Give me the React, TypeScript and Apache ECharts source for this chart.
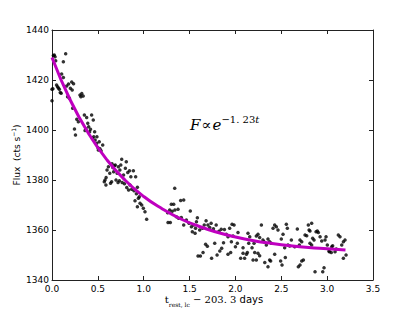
import React, { useEffect, useRef } from "react";
import * as echarts from "echarts";

// Observed flux points [t (days), flux (cts/s)]
const earlyPoints: number[][] = [
  [0.0, 1411.7], [0.0, 1416.3], [0.01, 1416.5], [0.015, 1429.8], [0.025, 1430], [0.033, 1429.3],
  [0.04, 1427.7], [0.05, 1418], [0.06, 1417.3], [0.07, 1416.8], [0.08, 1416.3], [0.09, 1415],
  [0.1, 1414.7], [0.105, 1422.4], [0.124, 1421], [0.124, 1427.3], [0.149, 1430.5], [0.16, 1417.6],
  [0.17, 1413.3], [0.18, 1418.4], [0.19, 1412.7], [0.2, 1416.7], [0.215, 1419.2], [0.22, 1416],
  [0.225, 1408.7], [0.235, 1418.5], [0.245, 1400.4], [0.256, 1398], [0.27, 1404.3], [0.287, 1403.3],
  [0.305, 1414], [0.315, 1413.3], [0.325, 1414.6], [0.34, 1413.6], [0.353, 1406], [0.36, 1399.8],
  [0.37, 1400.5], [0.378, 1405], [0.39, 1402.7], [0.4, 1401.3], [0.41, 1399.3], [0.42, 1400.3],
  [0.432, 1406], [0.44, 1396.7], [0.45, 1404], [0.455, 1397.3], [0.465, 1399.3], [0.47, 1396],
  [0.487, 1394.7], [0.49, 1397.3], [0.5, 1393], [0.505, 1392], [0.515, 1395.3], [0.523, 1392.5],
  [0.535, 1391.7], [0.553, 1394],
];

const midPoints: number[][] = [
  [0.57, 1379.3], [0.578, 1380], [0.588, 1378], [0.59, 1381], [0.6, 1384], [0.615, 1385.3],
  [0.63, 1382.7], [0.638, 1378.7], [0.65, 1379.3], [0.655, 1386.5], [0.663, 1385], [0.672, 1383.3],
  [0.68, 1385.7], [0.69, 1386], [0.698, 1380], [0.71, 1382.7], [0.72, 1379], [0.723, 1385.3],
  [0.735, 1379.7], [0.74, 1384], [0.75, 1386], [0.76, 1388.3], [0.765, 1379], [0.78, 1382],
  [0.79, 1378.5], [0.8, 1384.7], [0.81, 1387.3], [0.815, 1377], [0.826, 1383], [0.835, 1376],
  [0.845, 1383.7], [0.851, 1378], [0.86, 1381.3], [0.869, 1376.3], [0.887, 1383.7], [0.894, 1375.7],
  [0.905, 1371.7], [0.912, 1381.3], [0.92, 1374.5], [0.931, 1377.1], [0.931, 1369.3], [0.942, 1372.7],
  [0.952, 1373.3], [0.96, 1370.7], [0.978, 1370], [0.996, 1368.7], [1.014, 1367.3], [1.032, 1364.3],
];

const latePoints: number[][] = [
  [1.261, 1366.9], [1.265, 1363], [1.283, 1368], [1.29, 1363], [1.301, 1370.3], [1.31, 1367.5],
  [1.327, 1370.3], [1.338, 1376.7], [1.34, 1368], [1.356, 1365.3], [1.374, 1368.3], [1.38, 1364.7],
  [1.403, 1371.8], [1.41, 1365], [1.436, 1372], [1.436, 1362], [1.465, 1364], [1.494, 1362.7],
  [1.508, 1367.6], [1.52, 1361.3], [1.53, 1359.3], [1.545, 1362], [1.56, 1358.7], [1.565, 1360.7],
  [1.575, 1363.3], [1.585, 1364.9], [1.592, 1349.6], [1.618, 1349.6], [1.61, 1360], [1.64, 1360.7],
  [1.647, 1351], [1.66, 1362], [1.675, 1354.3], [1.68, 1363.7], [1.694, 1353.5], [1.7, 1362],
  [1.72, 1361], [1.735, 1362.7], [1.74, 1348.7], [1.76, 1360.5], [1.774, 1354.7], [1.79, 1362],
  [1.8, 1350], [1.82, 1359.5], [1.83, 1351.6], [1.845, 1360.3], [1.85, 1352.7], [1.87, 1354.9],
  [1.88, 1360.2], [1.9, 1358.3],
  [1.919, 1357.3], [1.919, 1350.3], [1.937, 1360.7], [1.948, 1351], [1.956, 1355.3], [1.963, 1362.3],
  [1.974, 1357.6], [1.985, 1362], [2.0, 1353.3], [2.021, 1354.7], [2.028, 1359], [2.057, 1348.7],
  [2.083, 1352.9], [2.083, 1350.7], [2.1, 1348.7], [2.12, 1350.3], [2.13, 1351], [2.137, 1358.7],
  [2.145, 1354.7], [2.156, 1357.3], [2.181, 1352.9], [2.192, 1348], [2.203, 1354.7], [2.21, 1351],
  [2.228, 1357.6], [2.228, 1348], [2.246, 1358.3], [2.246, 1350.7], [2.264, 1357], [2.264, 1349.7],
  [2.283, 1362], [2.3, 1356], [2.312, 1355.3], [2.32, 1347], [2.337, 1354], [2.355, 1356.4],
  [2.355, 1345.3], [2.373, 1355.3], [2.373, 1348], [2.384, 1347.6], [2.39, 1354.7], [2.41, 1360.7],
  [2.428, 1362], [2.428, 1350.3], [2.446, 1361.3], [2.464, 1360], [2.493, 1347.6], [2.5, 1356.4],
  [2.508, 1346], [2.519, 1358.3], [2.537, 1352.9], [2.544, 1349], [2.555, 1362.3], [2.566, 1360.7],
  [2.573, 1354], [2.591, 1353.6], [2.61, 1356], [2.646, 1353.3],
  [2.675, 1360.4], [2.686, 1345.3], [2.697, 1354], [2.704, 1356], [2.704, 1346], [2.723, 1355.3],
  [2.723, 1347.6], [2.741, 1348], [2.759, 1358], [2.777, 1357.7], [2.795, 1362], [2.803, 1360],
  [2.813, 1359.6], [2.813, 1354.7], [2.831, 1362.7], [2.831, 1354], [2.842, 1356.7], [2.857, 1356],
  [2.868, 1343.3], [2.879, 1359.3], [2.893, 1359.6], [2.904, 1359], [2.923, 1357.3], [2.941, 1355.6],
  [2.952, 1343.3], [2.966, 1344.9], [2.977, 1356], [2.988, 1357.3], [3.002, 1354], [3.02, 1351.6],
  [3.024, 1351.3], [3.045, 1351], [3.05, 1353.3], [3.06, 1353.7], [3.086, 1351.3], [3.1, 1352.4],
  [3.122, 1358], [3.14, 1357.3], [3.159, 1354], [3.177, 1355.3], [3.177, 1348.7], [3.195, 1356],
  [3.206, 1350],
];

// Fitted exponential decay curve
const fitT = [0, 0.2, 0.4, 0.6, 0.8, 1.0, 1.2, 1.4, 1.6, 1.8, 2.0, 2.2, 2.4, 2.6, 2.8, 3.0, 3.2];
const fitF = [1429.0, 1411.9, 1398.5, 1388.0, 1379.8, 1373.4, 1368.5, 1364.5, 1361.5, 1359.1, 1357.2,
  1355.7, 1354.6, 1353.7, 1353.0, 1352.5, 1352.0];

const xTicks = { min: 0, max: 3.5, interval: 0.5 };
const yTicks = { min: 1340, max: 1440, interval: 20 };

export default function App() {
  const ref = useRef<HTMLDivElement>(null);
  useEffect(() => {
    const chart = echarts.init(ref.current!, null, { renderer: "svg" });
    const axisLine = { show: true, onZero: false, lineStyle: { color: "#222", width: 1 } };
    const axisTick = { show: true, inside: true, length: 4, lineStyle: { color: "#222", width: 1 } };
    const label = { fontSize: 9, color: "#000", fontFamily: "DejaVu Sans" };
    const serif = "DejaVu Serif";
    chart.setOption({
      animation: false,
      backgroundColor: "#fff",
      grid: { left: 52, right: 42, top: 30, bottom: 32, containLabel: false },
      xAxis: [
        {
          type: "value", ...xTicks, position: "bottom", axisLine, axisTick,
          axisLabel: { ...label, margin: 4, formatter: (v: number) => v.toFixed(1) },
          splitLine: { show: false },
        },
        {
          type: "value", ...xTicks, position: "top", axisLine, axisTick,
          axisLabel: { show: false }, splitLine: { show: false },
        },
      ],
      yAxis: [
        {
          type: "value", ...yTicks, position: "left", axisLine, axisTick,
          axisLabel: { ...label, margin: 3, formatter: (v: number) => String(v) }, splitLine: { show: false },
        },
        {
          type: "value", ...yTicks, position: "right", axisLine, axisTick,
          axisLabel: { show: false }, splitLine: { show: false },
        },
      ],
      series: [
        {
          type: "scatter",
          data: earlyPoints.concat(midPoints, latePoints),
          symbolSize: 3.5,
          itemStyle: { color: "#000" },
          z: 2,
        },
        {
          type: "line",
          data: fitT.map((t, i) => [t, fitF[i]]),
          smooth: true,
          showSymbol: false,
          symbol: "none",
          lineStyle: { color: "#bf00bf", width: 3 },
          z: 3,
        },
      ],
      graphic: [
        {
          type: "text",
          x: 17,
          y: 155,
          rotation: Math.PI / 2,
          style: {
            text: "{a|Flux\u00a0\u00a0(cts s}{s|−1}{a|)}",
            align: "center",
            verticalAlign: "middle",
            textAlign: "center",
            textVerticalAlign: "middle",
            rich: {
              a: { fontSize: 9, fontFamily: "DejaVu Sans", fill: "#000", color: "#000", lineHeight: 14, verticalAlign: "middle" },
              s: { fontSize: 6, fontFamily: "DejaVu Sans", fill: "#000", color: "#000", verticalAlign: "top", lineHeight: 8 },
            },
          },
        },
        {
          type: "text",
          x: 214,
          y: 299,
          style: {
            text: "{t|t}{b|rest, lc}{m| − 203. 3 }{d|days}",
            align: "center",
            verticalAlign: "middle",
            textAlign: "center",
            textVerticalAlign: "middle",
            rich: {
              t: { fontSize: 10, fontFamily: serif, color: "#000", lineHeight: 16, verticalAlign: "middle" },
              b: { fontSize: 6, fontFamily: serif, color: "#000", verticalAlign: "bottom", lineHeight: 8 },
              m: { fontSize: 10, fontFamily: serif, color: "#000", lineHeight: 16, verticalAlign: "middle" },
              d: { fontSize: 10, fontFamily: "DejaVu Sans", color: "#000", lineHeight: 16, verticalAlign: "middle" },
            },
          },
        },
        {
          type: "text",
          x: 190,
          y: 125,
          style: {
            text: "{f|F}{p|∝}{e|e}{s|−1. 23}{st|t}",
            align: "left",
            verticalAlign: "middle",
            textAlign: "left",
            textVerticalAlign: "middle",
            rich: {
              f: { fontSize: 15, fontFamily: serif, fontStyle: "italic", color: "#000", lineHeight: 22, verticalAlign: "middle" },
              p: { fontSize: 15, fontFamily: serif, color: "#000", lineHeight: 22, verticalAlign: "middle", padding: [0, 1, 0, 1] },
              e: { fontSize: 15, fontFamily: serif, fontStyle: "italic", color: "#000", lineHeight: 22, verticalAlign: "middle" },
              s: { fontSize: 10, fontFamily: serif, color: "#000", verticalAlign: "top", lineHeight: 12 },
              st: { fontSize: 10, fontFamily: serif, fontStyle: "italic", color: "#000", verticalAlign: "top", lineHeight: 12 },
            },
          },
        },
      ],
    });
    return () => chart.dispose();
  }, []);
  return <div ref={ref} style={{ position: "absolute", left: 0, top: 0, width: 415, height: 312 }} />;
}
